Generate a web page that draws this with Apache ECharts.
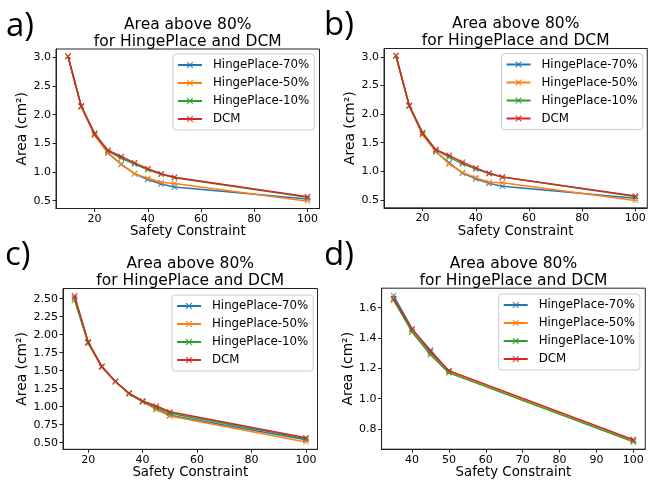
<!DOCTYPE html>
<html>
<head>
<meta charset="utf-8">
<script src="https://cdn.jsdelivr.net/npm/echarts@6/dist/echarts.min.js"></script>
<style>
  html, body { margin: 0; padding: 0; background: #fff; }
  #chart { width: 652px; height: 481px; }
</style>
</head>
<body>
<div id="chart"></div>
<script>
  // series names + colours (matplotlib tab10)
  const seriesNames = ['HingePlace-70%', 'HingePlace-50%', 'HingePlace-10%', 'DCM'];
  const colors = ['#1f77b4', '#ff7f0e', '#2ca02c', '#d62728'];

  // panel a
  const xA = [10, 15, 20, 25, 30, 35, 40, 45, 50, 100];
  const aHinge70 = [3.02, 2.14, 1.65, 1.33, 1.14, 0.97, 0.87, 0.79, 0.74, 0.53];
  const aHinge50 = [3.02, 2.14, 1.64, 1.34, 1.13, 0.97, 0.89, 0.82, 0.80, 0.49];
  const aHinge10 = [3.02, 2.15, 1.68, 1.37, 1.24, 1.14, 1.04, 0.96, 0.90, 0.56];
  const aDCM = [3.02, 2.15, 1.66, 1.38, 1.27, 1.16, 1.06, 0.97, 0.91, 0.57];

  // panel b
  const xB = [10, 15, 20, 25, 30, 35, 40, 45, 50, 100];
  const bHinge70 = [3.02, 2.14, 1.65, 1.34, 1.15, 0.97, 0.87, 0.79, 0.74, 0.53];
  const bHinge50 = [3.02, 2.14, 1.64, 1.35, 1.13, 0.98, 0.89, 0.81, 0.80, 0.49];
  const bHinge10 = [3.02, 2.15, 1.68, 1.37, 1.25, 1.13, 1.04, 0.96, 0.90, 0.56];
  const bDCM = [3.02, 2.15, 1.66, 1.38, 1.28, 1.16, 1.06, 0.97, 0.90, 0.57];

  // panel c
  const xC = [15, 20, 25, 30, 35, 40, 45, 50, 100];
  const cHinge70 = [2.52, 1.89, 1.56, 1.35, 1.18, 1.07, 0.97, 0.88, 0.54];
  const cHinge50 = [2.50, 1.89, 1.55, 1.35, 1.18, 1.07, 0.96, 0.87, 0.51];
  const cHinge10 = [2.48, 1.88, 1.55, 1.35, 1.18, 1.07, 0.99, 0.91, 0.56];
  const cDCM = [2.54, 1.90, 1.56, 1.35, 1.19, 1.08, 1.01, 0.93, 0.57];

  // panel d
  const xD = [35, 40, 45, 50, 100];
  const dHinge70 = [1.68, 1.46, 1.32, 1.18, 0.725];
  const dHinge50 = [1.66, 1.45, 1.30, 1.18, 0.72];
  const dHinge10 = [1.65, 1.44, 1.29, 1.17, 0.715];
  const dDCM = [1.66, 1.46, 1.31, 1.185, 0.73];

  // tick labels
  const xTicksABC = [20, 40, 60, 80, 100];
  const xTicksD = [40, 50, 60, 70, 80, 90, 100];
  const yTicksAB = [0.5, 1.0, 1.5, 2.0, 2.5, 3.0];
  const yTicksC = [0.5, 0.75, 1.0, 1.25, 1.5, 1.75, 2.0, 2.25, 2.5];
  const yTicksD = [0.8, 1.0, 1.2, 1.4, 1.6];

  const xMark = 'path://M0,1L1,0L5,4L9,0L10,1L6,5L10,9L9,10L5,6L1,10L0,9L4,5Z';
  const FONT = '"DejaVu Sans", sans-serif';

  // matplotlib style 5% margins
  function pad(arrs) {
    let all = [].concat.apply([], arrs);
    let lo = Math.min.apply(null, all), hi = Math.max.apply(null, all);
    let r = hi - lo;
    return [lo - 0.05 * r, hi + 0.05 * r];
  }

  const panels = [
    { tag: 'a)', x: xA, ys: [aHinge70, aHinge50, aHinge10, aDCM], xt: xTicksABC, yt: yTicksAB, dec: 1,
      grid: { left: 56, top: 49, width: 263.5, height: 159.5 }, yGap: 26, leg: [173, 54], tagPos: [6, 27] },
    { tag: 'b)', x: xB, ys: [bHinge70, bHinge50, bHinge10, bDCM], xt: xTicksABC, yt: yTicksAB, dec: 1,
      grid: { left: 384, top: 48.5, width: 263.3, height: 159.3 }, yGap: 26, leg: [501.5, 53.5], tagPos: [324, 26] },
    { tag: 'c)', x: xC, ys: [cHinge70, cHinge50, cHinge10, cDCM], xt: xTicksABC, yt: yTicksC, dec: 2,
      grid: { left: 63, top: 288.5, width: 254.5, height: 160.8 }, yGap: 33.5, leg: [172, 295], tagPos: [5, 256] },
    { tag: 'd)', x: xD, ys: [dHinge70, dHinge50, dHinge10, dDCM], xt: xTicksD, yt: yTicksD, dec: 1,
      grid: { left: 381.6, top: 288.2, width: 263.7, height: 161 }, yGap: 26, leg: [498.7, 294], tagPos: [324, 256] }
  ];

  let grids = [], xAxes = [], yAxes = [], series = [], legends = [], texts = [];

  panels.forEach(function (p, i) {
    grids.push(Object.assign({ show: true, borderColor: '#222', borderWidth: 1, backgroundColor: '#fff' }, p.grid));
    let xr = pad([p.x]);
    let yr = pad(p.ys);
    xAxes.push({
      type: 'value', gridIndex: i, min: xr[0], max: xr[1],
      name: 'Safety Constraint', nameLocation: 'middle', nameGap: 16.5,
      nameTextStyle: { fontFamily: FONT, fontSize: 13.3, color: '#000' },
      splitLine: { show: false },
      axisLine: { show: true, lineStyle: { color: '#222', width: 1 } },
      axisTick: { show: true, length: 3.5, lineStyle: { color: '#222' }, customValues: p.xt },
      axisLabel: { fontFamily: FONT, fontSize: 11, color: '#000', margin: 5, customValues: p.xt }
    });
    yAxes.push({
      type: 'value', gridIndex: i, min: yr[0], max: yr[1],
      name: 'Area (cm²)', nameLocation: 'middle', nameGap: p.yGap,
      nameTextStyle: { fontFamily: FONT, fontSize: 13.8, color: '#000' },
      splitLine: { show: false },
      axisLine: { show: true, lineStyle: { color: '#222', width: 1 } },
      axisTick: { show: true, length: 3.5, lineStyle: { color: '#222' }, customValues: p.yt },
      axisLabel: {
        fontFamily: FONT, fontSize: 11, color: '#000', margin: 5, customValues: p.yt,
        formatter: function (v) { return v.toFixed(p.dec); }
      }
    });
    p.ys.forEach(function (vals, k) {
      series.push({
        name: seriesNames[k], type: 'line', xAxisIndex: i, yAxisIndex: i,
        data: p.x.map(function (xv, j) { return [xv, vals[j]]; }),
        symbol: xMark, symbolSize: 6, showSymbol: true,
        lineStyle: { color: colors[k], width: 1.5 },
        itemStyle: { color: colors[k] },
        emphasis: { disabled: true },
        z: 2 + k
      });
    });
    legends.push({
      left: p.leg[0], top: p.leg[1], orient: 'vertical',
      data: seriesNames, selectedMode: false,
      backgroundColor: '#fff', borderColor: '#ccc', borderWidth: 1, borderRadius: 3,
      padding: [4, 5, 4, 4], itemGap: 4, itemWidth: 24, itemHeight: 8,
      textStyle: { fontFamily: FONT, fontSize: 11.8, color: '#000', lineHeight: 14, padding: [0, 0, 0, 6] }
    });
    let cx = p.grid.left + p.grid.width / 2;
    texts.push({
      type: 'text', style: {
        text: 'Area above 80%\nfor HingePlace and DCM', x: cx, y: p.grid.top - 33,
        align: 'center', verticalAlign: 'top', fontFamily: FONT, fontSize: 15.5, lineHeight: 17, fill: '#000'
      }
    });
    texts.push({
      type: 'text', style: {
        text: p.tag, x: p.tagPos[0], y: p.tagPos[1],
        align: 'left', verticalAlign: 'middle', fontFamily: '"Open Sans", sans-serif', fontSize: 33, fill: '#000'
      }
    });
  });

  let chart = echarts.init(document.getElementById('chart'), null, { width: 652, height: 481 });
  chart.setOption({
    animation: false,
    backgroundColor: '#fff',
    grid: grids,
    xAxis: xAxes,
    yAxis: yAxes,
    legend: legends,
    series: series,
    graphic: texts
  });
</script>
</body>
</html>
